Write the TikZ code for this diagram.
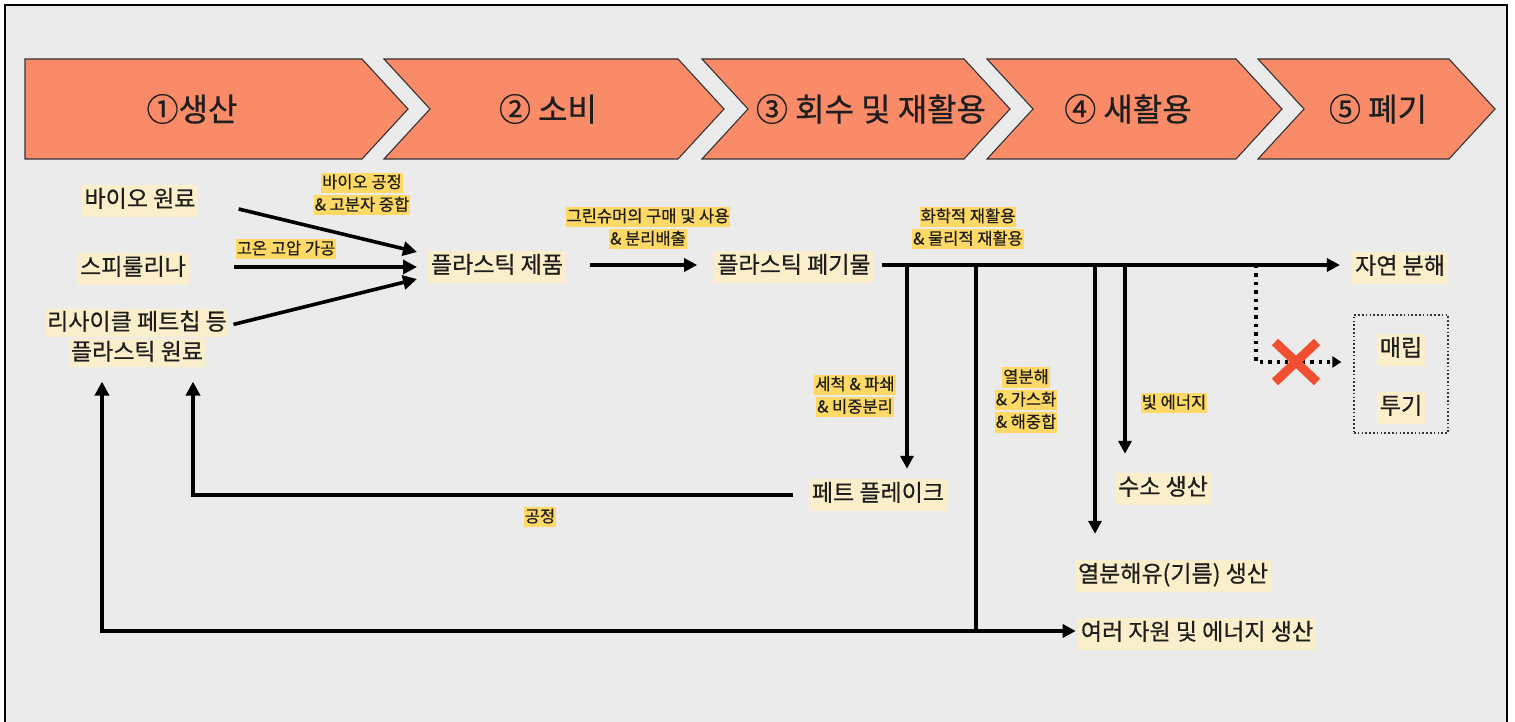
\documentclass[tikz,border=0pt]{standalone}
\usepackage{fontspec}
\setmainfont{Noto Sans CJK KR}[FakeBold=0.6]
\usetikzlibrary{arrows.meta,calc}
\definecolor{bgg}{HTML}{EBEBEB}
\definecolor{chev}{HTML}{F98B69}
\definecolor{hlY}{HTML}{FFD966}
\definecolor{hlP}{HTML}{FBEFCB}
\definecolor{xred}{HTML}{F0502F}
\definecolor{txt}{HTML}{1E1E1E}
\newcommand\hlS[1]{{\setlength\fboxsep{1pt}\colorbox{hlY}{\rule[-0.24em]{0pt}{1.12em}#1}}}
\newcommand\hlB[1]{{\setlength\fboxsep{1.5pt}\colorbox{hlP}{\rule[-0.26em]{0pt}{1.12em}#1}}}
\begin{document}
\begin{tikzpicture}[x=1pt,y=-1pt,
  chevst/.style={fill=chev,draw=black!80,line width=1.1pt,line join=miter},
  title/.style={font=\fontsize{32}{36}\selectfont,text=txt},
  big/.style={font=\fontsize{23}{30}\selectfont,text=txt,fill=hlP,inner xsep=3pt,inner ysep=5pt,text height=17pt,text depth=5pt},
  bigml/.style={font=\fontsize{23}{30}\selectfont,text=txt,align=center,inner sep=0pt},
  small/.style={font=\fontsize{16.5}{22.5}\selectfont,text=txt,align=center,inner sep=0pt},
  arr/.style={line width=3.6pt,-{Triangle[length=14pt,width=14pt]}},
  ln/.style={line width=3.4pt},
  arrt/.style={line width=3.2pt,-{Triangle[length=13pt,width=13pt]}}]
\useasboundingbox (0,0) rectangle (1515,722);
\draw[line width=2pt,fill=bgg] (5,5) rectangle (1507,730);
% chevrons
\draw[chevst] (25,59) -- (362,59) -- (408,109) -- (362,159) -- (25,159) -- cycle;
\draw[chevst] (384,59) -- (678,59) -- (724,109) -- (678,159) -- (384,159) -- (430,109) -- cycle;
\draw[chevst] (702,59) -- (964,59) -- (1010,109) -- (964,159) -- (702,159) -- (748,109) -- cycle;
\draw[chevst] (987,59) -- (1236,59) -- (1282,109) -- (1236,159) -- (987,159) -- (1033,109) -- cycle;
\draw[chevst] (1258,59) -- (1449,59) -- (1495,109) -- (1449,159) -- (1258,159) -- (1304,109) -- cycle;
\node[title] (t1) at (192,109) {①생산};
\node[title] (t2) at (548,109) {② 소비};
\node[title] (t3) at (871,109) {③ 회수 및 재활용};
\node[title] (t4) at (1128,109) {④ 새활용};
\node[title] (t5) at (1378,109) {⑤ 폐기};
% main nodes
\node[big] (bio) at (140,201) {바이오 원료};
\node[big] (spi) at (133,269) {스피룰리나};
\node[bigml] (rc) at (137,338) {\hlB{리사이클 페트칩 등}\\\hlB{플라스틱 원료}};
\node[big] (prod) at (497,267) {플라스틱 제품};
\node[big] (waste) at (794,267) {플라스틱 폐기물};
\node[big] (nat) at (1400,268) {자연 분해};
\node[draw=black!80,line width=1.3pt,dash pattern=on 1.6pt off 2.2pt,minimum width=94pt,minimum height=118pt,inner sep=0pt] (dbox) at (1401,374) {};
\node[big] (land) at (1401,350) {매립};
\node[big] (dump) at (1401,408) {투기};
\node[big] (pet) at (878,495) {페트 플레이크};
\node[big] (h2) at (1163,489) {수소 생산};
\node[big] (oil) at (1173,576) {열분해유(기름) 생산};
\node[big] (res) at (1197,634) {여러 자원 및 에너지 생산};
% small labels
\node[small] (l1) at (362,194) {\hlS{바이오 공정}\\\hlS{\& 고분자 중합}};
\node[small] (l2) at (286,249) {\hlS{고온 고압 가공}};
\node[small] (l3) at (648,228) {\hlS{그린슈머의 구매 및 사용}\\\hlS{\& 분리배출}};
\node[small] (l4) at (968,228) {\hlS{화학적 재활용}\\\hlS{\& 물리적 재활용}};
\node[small] (l5) at (855,396) {\hlS{세척 \& 파쇄}\\\hlS{\& 비중분리}};
\node[small] (l6) at (1026,400) {\hlS{열분해}\\\hlS{\& 가스화}\\\hlS{\& 해중합}};
\node[small] (l7) at (1174,403) {\hlS{빛 에너지}};
\node[small] (l8) at (540,517) {\hlS{공정}};
% connection points
\coordinate (pin1) at (417,252);
\coordinate (pin2) at (417,267);
\coordinate (pin3) at (417,279);
\coordinate (w0) at ($(waste.east)+(8,-2)$);
\coordinate (b1) at (907,265);
\coordinate (b2) at (976,265);
\coordinate (b3) at (1095,265);
\coordinate (b4) at (1125,265);
\coordinate (d0) at (1256,265);
\coordinate (d1) at (1256,362);
\coordinate (bot) at (976,631);
\coordinate (lft) at (102,631);
\coordinate (pl) at (193,495);
% left arrows
\draw[arr] ($(bio.east)+(40,8)$) -- (pin1);
\draw[arr] ($(spi.east)+(45,-2)$) -- (pin2);
\draw[arr] ($(rc.north east)+(5,16)$) -- (pin3);
% product -> waste
\draw[arrt] ($(prod.east)+(24,-2)$) -- ($(waste.west)+(-17,-2)$);
% waste trunk
\draw[arrt] (w0) -- ($(nat.west)+(-12,-3)$);
\draw[arrt] (b1) -- ($(b1 |- pet.north)+(0,-10)$);
\draw[ln] (b2) -- (bot);
\draw[arrt] (b3) -- ($(b3 |- oil.north)+(0,-26)$);
\draw[arrt] (b4) -- ($(b4 |- h2.north)+(0,-19)$);
% bottom return
\draw[arrt] (bot) -- ($(res.west)+(-2,-3)$);
\draw[arr] (bot) -- (lft) -- ($(lft |- rc.south)+(0,14)$);
% pet flake return
\draw[arr] ($(pet.west)+(-16,0)$) -- (pl) -- ($(pl |- rc.south)+(0,14)$);
% dotted to landfill
\draw[line width=3.4pt,dash pattern=on 3.4pt off 5pt,-{Triangle[length=9pt,width=11pt]}] (d0) -- (d1) -- ($(d1 -| dbox.west)+(-12,0)$);
\draw[xred,line width=9pt] ($(d1)+(19,-20)$) -- ($(d1)+(61,20)$);
\draw[xred,line width=9pt] ($(d1)+(19,20)$) -- ($(d1)+(61,-20)$);
\end{tikzpicture}
\end{document}
